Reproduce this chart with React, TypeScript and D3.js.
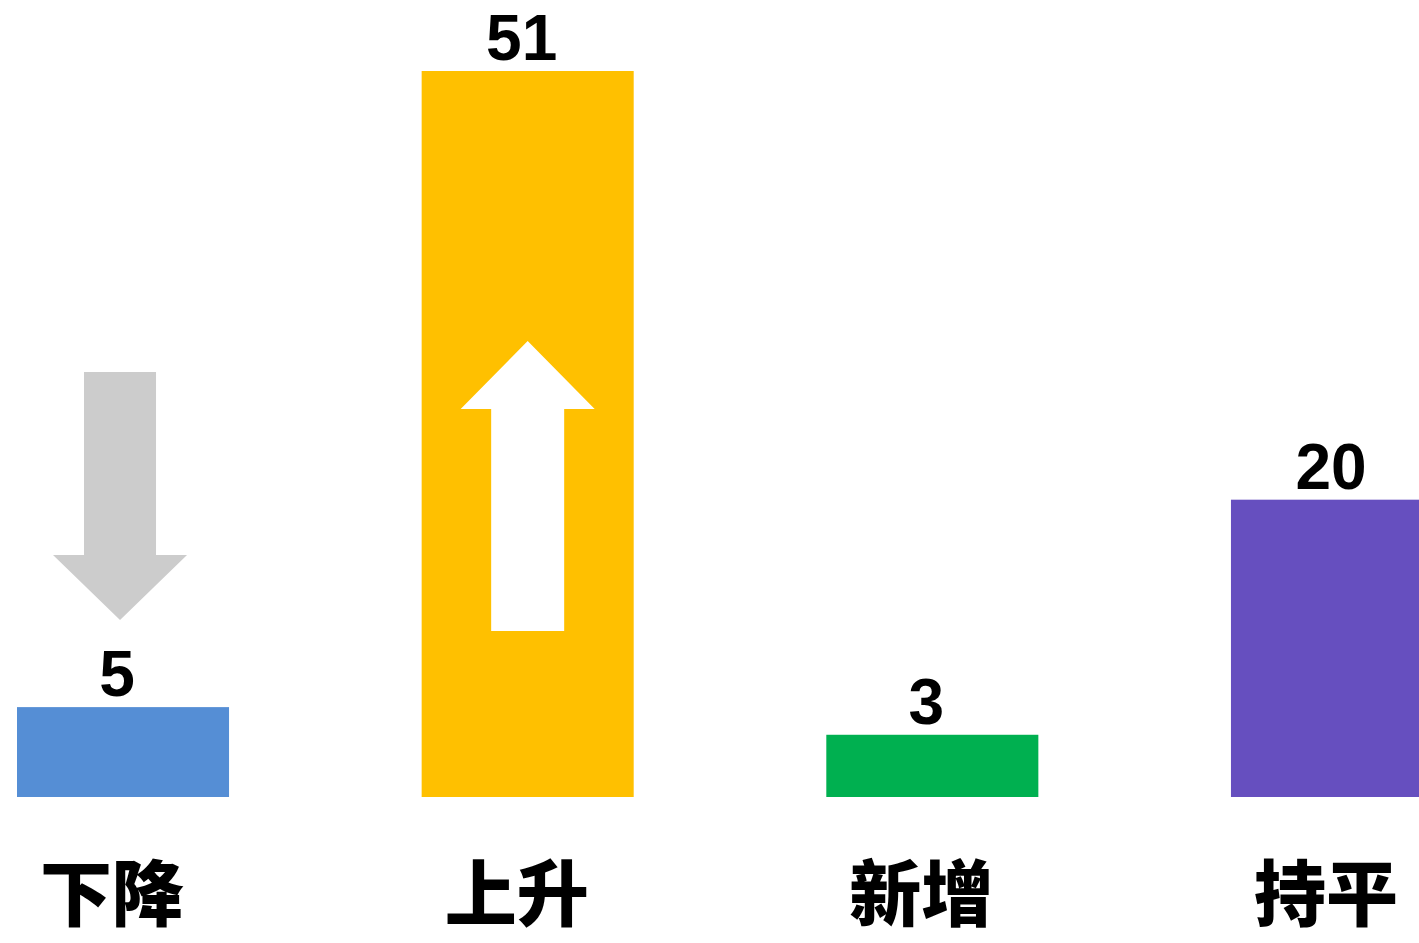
import React from 'react';
import * as d3 from 'd3';

const categories = ['下降', '上升', '新增', '持平'];
const values = [5, 51, 3, 20];
const colors = ['#558ED5', '#FFC000', '#00B050', '#664FBF'];

const width = 1419;
const height = 943;
const baseline = 797;

const x = d3.scaleBand<string>()
  .domain(categories)
  .range([17, 1443])
  .paddingInner(0.476)
  .paddingOuter(0);

// small negative floor so the short bars keep some height, like the original
const y = d3.scaleLinear().domain([-1.5, 51]).range([baseline, 71]);

// block arrow: tail end, base of the head, tip
const arrowPath = (cx: number, tail: number, headBase: number, tip: number, shaft: number, head: number) => {
  const p = d3.path();
  p.moveTo(cx - shaft / 2, tail);
  p.lineTo(cx + shaft / 2, tail);
  p.lineTo(cx + shaft / 2, headBase);
  p.lineTo(cx + head / 2, headBase);
  p.lineTo(cx, tip);
  p.lineTo(cx - head / 2, headBase);
  p.lineTo(cx - shaft / 2, headBase);
  p.closePath();
  return p.toString();
};

const App: React.FC = () => {
  const bw = x.bandwidth();
  const cx = (c: string) => (x(c) || 0) + bw / 2;

  const downTop = y(values[0]);
  const upTop = y(values[1]);

  return (
    <svg width={width} height={height} style={{ position: 'absolute', left: 0, top: 0, background: '#fff' }}>
      {categories.map((c, i) => (
        <rect
          key={c}
          x={x(c) || 0}
          y={y(values[i])}
          width={bw}
          height={baseline - y(values[i])}
          fill={colors[i]}
        />
      ))}

      {/* grey arrow above the falling bar */}
      <path
        d={arrowPath(cx(categories[0]) - 3, downTop - 335, downTop - 152, downTop - 87, 72, 134)}
        fill="#CCCCCC"
      />
      {/* white arrow inside the rising bar */}
      <path
        d={arrowPath(cx(categories[1]), baseline - 166, upTop + 338, upTop + 270, 73, 134)}
        fill="#FFFFFF"
      />

      {categories.map((c, i) => (
        <text
          key={'v' + c}
          x={cx(c) - 6}
          y={y(values[i]) - 11}
          textAnchor="middle"
          style={{ fontFamily: '"Liberation Sans", Arial, sans-serif', fontWeight: 'bold', fontSize: '64px', fill: '#000' }}
        >
          {values[i]}
        </text>
      ))}

      {categories.map(c => (
        <text
          key={'c' + c}
          x={cx(c) - 11}
          y={920}
          textAnchor="middle"
          style={{ fontFamily: '"Noto Sans CJK SC", sans-serif', fontWeight: 900, fontSize: '72px', fill: '#000' }}
        >
          {c}
        </text>
      ))}
    </svg>
  );
};

export default App;
